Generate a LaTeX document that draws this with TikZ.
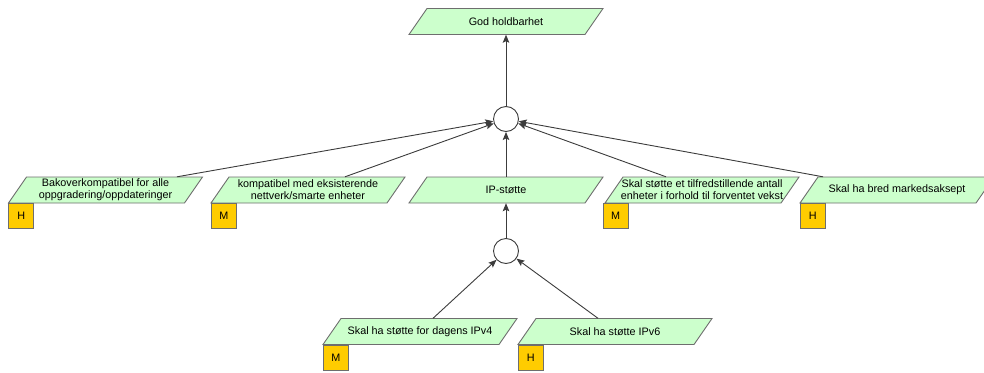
\documentclass[tikz,border=0pt]{standalone}
\usepackage{fontspec}
\setmainfont{Liberation Sans}
\usetikzlibrary{arrows.meta,calc}
\definecolor{pgfillc}{RGB}{204,255,204}
\definecolor{pgline}{RGB}{110,110,110}
\definecolor{badgec}{RGB}{255,204,0}
\definecolor{connc}{RGB}{60,60,60}
\newcommand{\pgbox}[4]{%
  \filldraw[pgshape] (#2-97,#3+13) -- (#2+79,#3+13) -- (#2+97,#3-13) -- (#2-79,#3-13) -- cycle;
  \node[pgtext] (#1) at (#2,#3) {#4};
}
\begin{document}
\begin{tikzpicture}[x=1pt,y=-1pt,
  pgshape/.style={fill=pgfillc, draw=pgline, line width=0.9pt},
  pgtext/.style={minimum width=158pt, minimum height=26pt, inner sep=0pt, align=center,
    font=\fontsize{10.8}{12}\selectfont},
  badge/.style={draw=pgline, fill=badgec, line width=0.9pt, minimum size=25pt, inner sep=0pt,
    anchor=north west, font=\fontsize{10.8}{12}\selectfont},
  junction/.style={circle, draw=connc, fill=white, line width=0.9pt, minimum size=25pt, inner sep=0pt},
  conn/.style={draw=connc, line width=0.9pt, -{Stealth[length=8pt,width=6.5pt,inset=1.5pt]}}
]
\useasboundingbox (0,0) rectangle (984,372);
\clip (0,0) rectangle (984,372);

\pgbox{top}{506}{21.5}{God holdbarhet}
\pgbox{b1}{105.5}{190}{Bakoverkompatibel for alle\\oppgradering/oppdateringer}
\pgbox{b2}{308}{190}{kompatibel med eksisterende\\nettverk/smarte enheter}
\pgbox{b3}{506}{190}{IP-støtte}
\pgbox{b4}{702}{190}{Skal støtte et tilfredstillende antall\\enheter i forhold til forventet vekst}
\pgbox{b5}{897}{190}{Skal ha bred markedsaksept}
\pgbox{b6}{420}{331.5}{Skal ha støtte for dagens IPv4}
\pgbox{b7}{615}{331.5}{Skal ha støtte IPv6}

\node[badge] (h1) at ($(b1.south west)+(-18,0)$) {H};
\node[badge] (h2) at ($(b2.south west)+(-18,0)$) {M};
\node[badge] (h4) at ($(b4.south west)+(-18,0)$) {M};
\node[badge] (h5) at ($(b5.south west)+(-18,0)$) {H};
\node[badge] (h6) at ($(b6.south west)+(-18,0)$) {M};
\node[badge] (h7) at ($(b7.south west)+(-18,0)$) {H};

\node[junction] (c1) at (506,119) {};
\node[junction] (c2) at (506,251) {};

\draw[conn] (c1) -- (top);
\draw[conn] ($(b1.north)+(71.5,0)$) -- (c1);
\draw[conn] ($(b2.north)+(37,0)$) -- (c1);
\draw[conn] (b3) -- (c1);
\draw[conn] ($(b4.north)+(-36,0)$) -- (c1);
\draw[conn] ($(b5.north)+(-74,0)$) -- (c1);
\draw[conn] (c2) -- (b3);
\draw[conn] ($(b6.north)+(13,0)$) -- (c2);
\draw[conn] ($(b7.north)+(-17,0)$) -- (c2);
\end{tikzpicture}
\end{document}
